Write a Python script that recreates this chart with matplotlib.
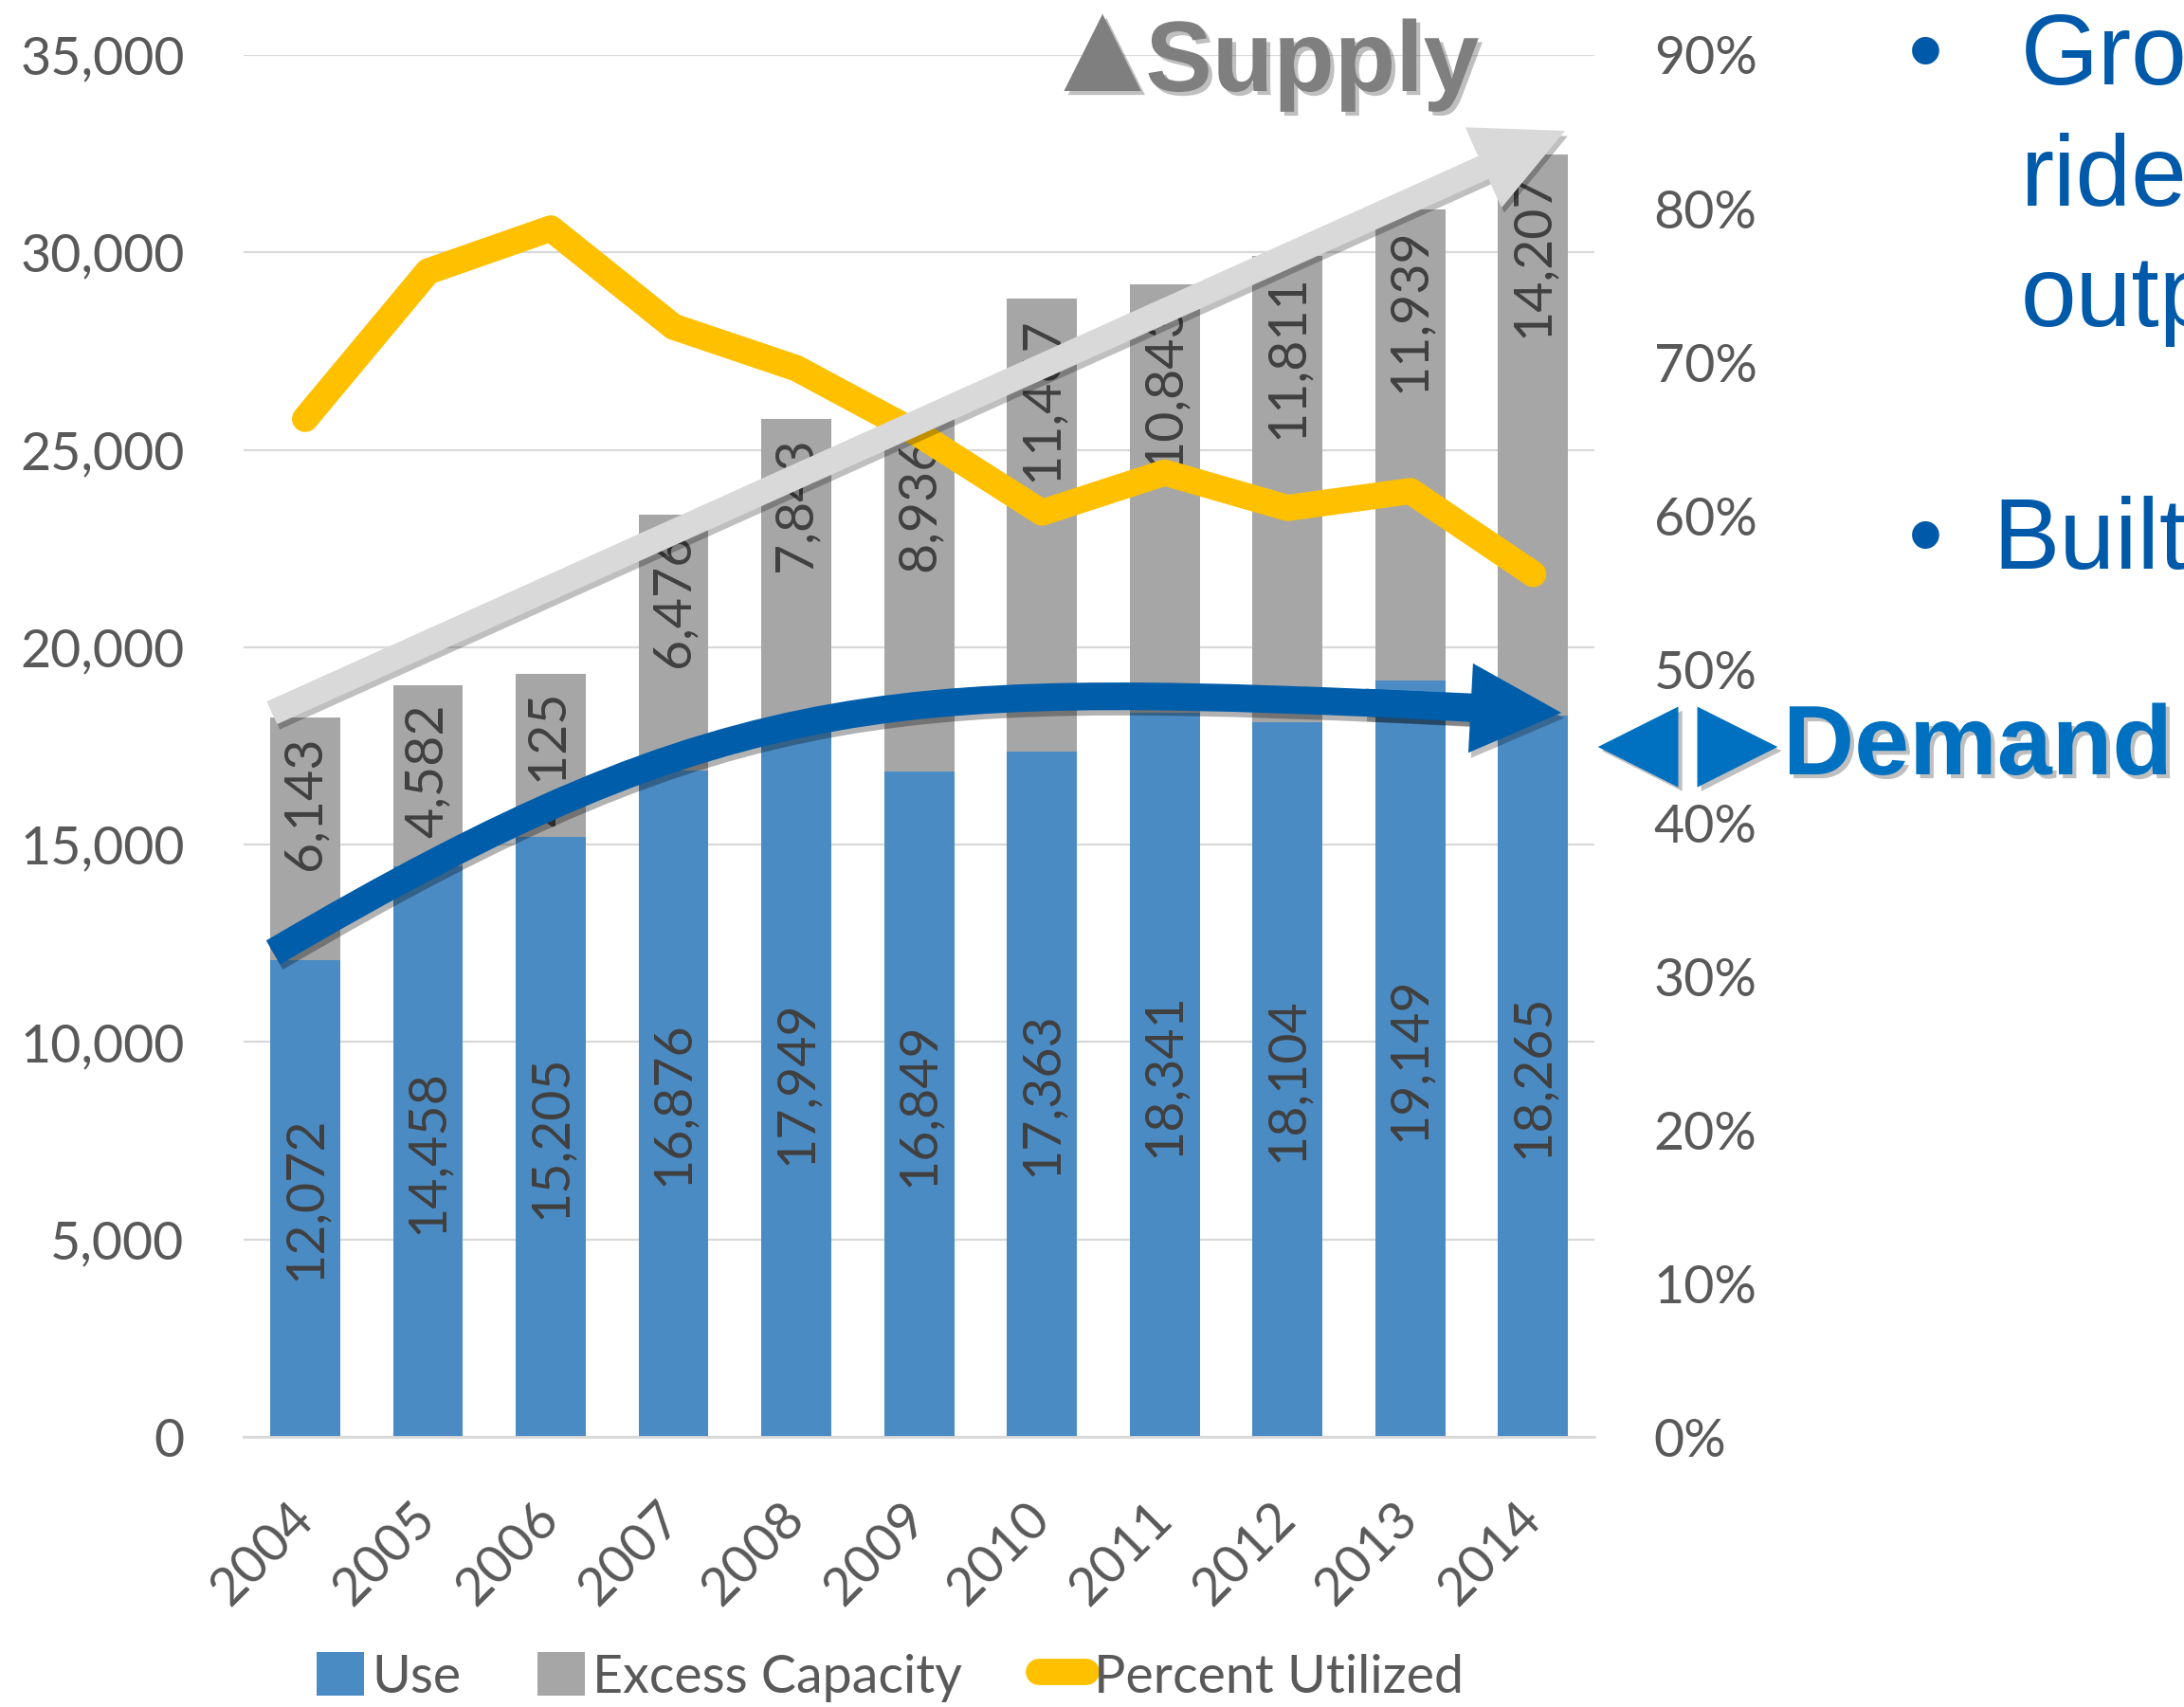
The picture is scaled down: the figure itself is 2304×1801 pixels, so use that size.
import matplotlib
matplotlib.use("Agg")
import matplotlib.pyplot as plt
import matplotlib.patheffects as pe
from matplotlib.patches import Patch, PathPatch, FancyArrowPatch, ArrowStyle
from matplotlib.lines import Line2D
from matplotlib.path import Path
from matplotlib.ticker import FuncFormatter, MultipleLocator

plt.rcParams["font.family"] = ["Lato", "DejaVu Sans"]

# ── data ──────────────────────────────────────────────────────────────────
years   = ["2004", "2005", "2006", "2007", "2008", "2009",
           "2010", "2011", "2012", "2013", "2014"]
use     = [12072, 14458, 15205, 16876, 17949, 16849,
           17363, 18341, 18104, 19149, 18265]
excess  = [6143, 4582, 4125, 6476, 7843, 8936,
           11467, 10843, 11811, 11939, 14207]
pct_utilized = [0.663, 0.759, 0.787, 0.723, 0.696, 0.653,
                0.602, 0.628, 0.605, 0.616, 0.562]

C_USE, C_EXC, C_PCT = "#4B8BC4", "#A6A6A6", "#FFC000"
C_TXT, C_GRID = "#595959", "#D9D9D9"
C_DEMAND, C_BULLET = "#0070C0", "#0059A9"

fig = plt.figure(figsize=(23.04, 18.01), dpi=100)
ax = fig.add_axes([0.1116, 0.1582, 0.6185, 0.8096])
x = list(range(len(years)))

ax.bar(x, use, width=0.57, color=C_USE, zorder=2)
ax.bar(x, excess, width=0.57, bottom=use, color=C_EXC, zorder=2)

for i, (u, e) in enumerate(zip(use, excess)):
    ax.text(i, u / 2, f"{u:,}", rotation=90, ha="center", va="center",
            fontsize=40, color="#404040", zorder=3)
    ax.annotate(f"{e:,}", xy=(i, u + e), xytext=(0, -14),
                textcoords="offset points", rotation=90, ha="center",
                va="top", fontsize=40, color="#404040", zorder=3)

ax.set_xlim(-0.5, len(years) - 0.5)
ax.set_ylim(0, 35000)
ax.yaxis.set_major_locator(MultipleLocator(5000))
ax.yaxis.set_major_formatter(FuncFormatter(lambda v, p: f"{v:,.0f}"))
ax.grid(axis="y", color=C_GRID, lw=1.6, zorder=0)
ax.set_axisbelow(True)
for name, sp in ax.spines.items():
    sp.set_visible(name == "bottom")
ax.spines["bottom"].set_color(C_GRID)
ax.spines["bottom"].set_linewidth(2)
ax.set_xticks(x)
ax.set_xticklabels(years, rotation=45, ha="right", va="center",
                   rotation_mode="anchor")
ax.tick_params(axis="x", length=0, pad=56, labelsize=40, labelcolor=C_TXT)
ax.tick_params(axis="y", length=0, pad=45, labelsize=40, labelcolor=C_TXT)

ax2 = ax.twinx()
ax2.set_ylim(0, 0.9)
ax2.yaxis.set_major_locator(MultipleLocator(0.1))
ax2.yaxis.set_major_formatter(FuncFormatter(lambda v, p: f"{v:.0%}"))
ax2.tick_params(axis="y", length=0, pad=45, labelsize=40, labelcolor=C_TXT)
for sp in ax2.spines.values():
    sp.set_visible(False)
ax2.plot(x, pct_utilized, color=C_PCT, lw=20, solid_capstyle="round",
         solid_joinstyle="round", zorder=3)

# ── supply arrow (straight, light grey) ───────────────────────────────────
shadow = [pe.SimplePatchShadow(offset=(2, -4), shadow_rgbFace="k", alpha=0.25),
          pe.Normal()]
supply = FancyArrowPatch((-0.27, 18340), (10.26, 33080),
                         transform=ax.transData,
                         arrowstyle=ArrowStyle.Simple(head_length=6.8,
                                                      head_width=6.7,
                                                      tail_width=1.9),
                         mutation_scale=10, shrinkA=0, shrinkB=0,
                         fc="#D9D9D9", ec="none", lw=0, zorder=5,
                         clip_on=False, path_effects=shadow)
ax2.add_patch(supply)

# ── demand arrow (curved, dark blue) ──────────────────────────────────────
curve = Path([(-0.26, 12270), (3.55, 19250), (4.87, 19110), (9.50, 18480)],
             [Path.MOVETO, Path.CURVE4, Path.CURVE4, Path.CURVE4])
ax2.add_patch(PathPatch(curve, transform=ax.transData, fc="none",
                        ec="#005DAA", lw=21, capstyle="butt", zorder=6,
                        clip_on=False,
                        path_effects=[pe.SimpleLineShadow(offset=(2, -4),
                                                          shadow_color="k",
                                                          alpha=0.3),
                                      pe.Normal()]))
head = FancyArrowPatch((8.63, 18600), (10.23, 18340),
                       transform=ax.transData,
                       arrowstyle=ArrowStyle.Simple(head_length=6.9,
                                                    head_width=6.8,
                                                    tail_width=2.1),
                       mutation_scale=10, shrinkA=0, shrinkB=0,
                       fc="#005DAA", ec="none", lw=0, zorder=6,
                       clip_on=False, path_effects=shadow)
ax2.add_patch(head)

# ── side annotations ──────────────────────────────────────────────────────
bold_fam = ["Liberation Sans", "DejaVu Sans"]
txt_shadow = [pe.withSimplePatchShadow(offset=(3, -3), shadow_rgbFace="k",
                                       alpha=0.25)]
fig.text(0.4750, 0.9467, "\u25B2", fontsize=100, fontweight="bold",
         family=bold_fam, color="#7F7F7F", va="baseline", ha="left",
         path_effects=txt_shadow)
fig.text(0.5245, 0.9467, "Supply", fontsize=76, fontweight="bold",
         family=bold_fam, color="#7F7F7F", va="baseline", ha="left",
         path_effects=txt_shadow)
for s, fx in [("\u25C0", 0.7315), ("\u25B6", 0.7770)]:
    fig.text(fx, 0.5464, s, fontsize=80, fontweight="bold", family=bold_fam,
             color=C_DEMAND, va="baseline", ha="left",
             path_effects=txt_shadow)
fig.text(0.8164, 0.5464, "Demand", fontsize=75, fontweight="bold",
         family=bold_fam, color=C_DEMAND, va="baseline", ha="left",
         path_effects=txt_shadow)

bullet_lines = [("\u2022", 0.8737, 0.9506), ("Gro", 0.9253, 0.9506),
                ("ride", 0.9253, 0.8795), ("outp", 0.9253, 0.8090),
                ("\u2022", 0.8737, 0.6669), ("Built", 0.9123, 0.6669)]
for s, fx, fy in bullet_lines:
    fig.text(fx, fy, s, fontsize=76, family=bold_fam, color=C_BULLET,
             va="baseline", ha="left")

# ── legend ────────────────────────────────────────────────────────────────
handles = [Patch(facecolor=C_USE), Patch(facecolor=C_EXC),
           Line2D([0], [0], color=C_PCT, lw=20, solid_capstyle="round")]
fig.legend(handles, ["Use", "Excess Capacity", "Percent Utilized"],
           loc="center", bbox_to_anchor=(0.4076, 0.0175), ncol=3,
           frameon=False, fontsize=40, labelcolor=C_TXT,
           handlelength=0.9, handleheight=0.9, handletextpad=0.15,
           columnspacing=1.45, borderpad=0)

fig.savefig("out.png", dpi=100)
